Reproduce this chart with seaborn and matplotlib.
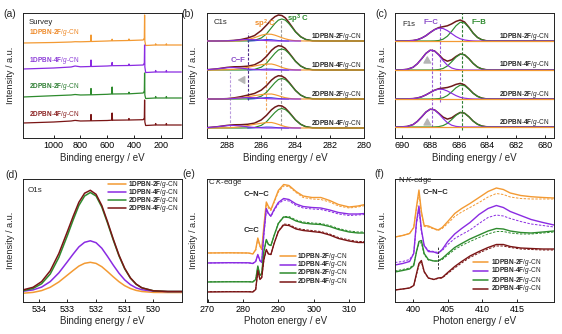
import numpy as np
import matplotlib
matplotlib.use("Agg")
import matplotlib.pyplot as plt
import seaborn as sns

# ---------------- data ----------------
samples = ["1DPBN-2F", "1DPBN-4F", "2DPBN-2F", "2DPBN-4F"]

# (a) XPS survey
survey_be = [1230, 1000, 870, 840, 800, 724, 721, 718, 600, 566, 563, 560, 440, 437, 434,
             330, 322, 320, 318, 312, 240, 237, 234, 160, 157, 154, 45]
survey_1d2f = [95, 95.5, 96, 96.3, 96.2, 96.5, 103, 96.5, 97, 97.2, 98.8, 97.2, 97.5, 99, 97.5,
               98, 100, 123, 97, 92.5, 93, 94.2, 93, 93, 94.2, 93, 93]
survey_1d4f = [69, 70, 71, 72, 71.2, 71.5, 78, 71.5, 72, 72.3, 75.5, 72.3, 72.5, 74, 72.5,
               73, 75, 93, 71, 65.5, 66, 67.5, 66, 66, 67.5, 66, 66]
survey_2d2f = [41, 42.3, 43, 43.5, 43, 43.2, 49.5, 43.2, 43.7, 44, 51, 44, 44.2, 45.8, 44.2,
               45, 47, 65, 43, 39.5, 40, 41.5, 40, 40, 41.5, 40, 40]
survey_2d4f = [15, 16, 17, 17.6, 17, 17.2, 23.5, 17.2, 17.5, 17.8, 25, 17.8, 18, 19.5, 18,
               18.3, 20, 38, 16, 12.5, 13, 14.5, 13, 13, 14.5, 13, 13]

# (b) C1s fitted components
c1s_be = [289.2, 288.6, 288.0, 287.6, 287.2, 286.8, 286.4, 286.0, 285.7, 285.4, 285.2,
          285.0, 284.8, 284.6, 284.4, 284.2, 284.0, 283.7, 283.4, 283.0, 282.4, 280.0]
c1s_sp3 = [
    [0, 0, 0, 0, 0, 0.1, 0.6, 3, 7, 13.4, 17.6, 20.9, 22, 20.9, 17.6, 13.4, 9, 4.2, 1.5, 0.2, 0, 0],
    [0, 0, 0, 0, 0, 0.1, 0.6, 2.8, 6.7, 12.8, 16.8, 20, 21, 20, 16.8, 12.8, 8.6, 4, 1.4, 0.2, 0, 0],
    [0, 0, 0, 0, 0, 0.1, 0.6, 2.8, 6.6, 12.5, 16.4, 19.5, 20.5, 19.5, 16.4, 12.5, 8.4, 3.9, 1.4, 0.2, 0, 0],
    [0, 0, 0, 0, 0, 0.1, 0.5, 2.6, 6.2, 11.9, 15.6, 18.5, 19.5, 18.5, 15.6, 11.9, 8, 3.7, 1.3, 0.2, 0, 0],
]
c1s_sp2 = [
    [0, 0, 0, 0.1, 0.3, 1.3, 3.3, 5.8, 6.9, 6.7, 5.8, 4.6, 3.3, 2.2, 1.3, 0.7, 0.3, 0.1, 0, 0, 0, 0],
    [0, 0, 0.3, 0.7, 1.4, 2.6, 4, 5.3, 5.9, 6, 5.2, 4, 2.6, 1.6, 0.8, 0.4, 0.1, 0, 0, 0, 0, 0],
    [0, 0, 0.2, 0.6, 1.2, 2.2, 3.4, 4.4, 4.9, 5, 4.3, 3.3, 2.2, 1.3, 0.7, 0.3, 0.1, 0, 0, 0, 0, 0],
    [0, 0, 0.2, 0.6, 1.3, 2.4, 3.7, 4.8, 5.4, 5.5, 4.7, 3.6, 2.4, 1.4, 0.7, 0.3, 0.1, 0, 0, 0, 0, 0],
]
c1s_cf = [
    [0, 0, 0.15, 0.5, 1.1, 1.5, 1.3, 0.8, 0.4, 0.15, 0.1, 0, 0, 0, 0, 0, 0, 0, 0, 0, 0, 0],
    [0.25, 1.1, 2.3, 2.5, 1.9, 1.1, 0.45, 0.1, 0, 0, 0, 0, 0, 0, 0, 0, 0, 0, 0, 0, 0, 0],
    [0, 0, 0.15, 0.5, 1.1, 1.5, 1.3, 0.8, 0.4, 0.15, 0.1, 0, 0, 0, 0, 0, 0, 0, 0, 0, 0, 0],
    [0.3, 1.2, 2.4, 2.6, 2.0, 1.2, 0.5, 0.1, 0, 0, 0, 0, 0, 0, 0, 0, 0, 0, 0, 0, 0, 0],
]
c1s_minor = [
    [0, 0, 0, 0, 0, 0.05, 0.2, 0.9, 1.45, 1.3, 0.9, 0.5, 0.2, 0.06, 0, 0, 0, 0, 0, 0, 0, 0],
    [0, 0, 0, 0, 0, 0, 0.15, 0.6, 1.0, 0.9, 0.6, 0.3, 0.15, 0, 0, 0, 0, 0, 0, 0, 0, 0],
    [0, 0, 0, 0, 0, 0.05, 0.2, 0.9, 1.45, 1.3, 0.9, 0.5, 0.2, 0.06, 0, 0, 0, 0, 0, 0, 0, 0],
    [0, 0, 0, 0, 0, 0, 0.15, 0.6, 1.0, 0.9, 0.6, 0.3, 0.15, 0, 0, 0, 0, 0, 0, 0, 0, 0],
]
c1s_marks = [284.85, 285.7, 286.75, 287.85]   # sp3, sp2, C-F (2F), C-F (4F)

# (c) F1s fitted components
f1s_be = [690.46, 690.0, 689.6, 689.2, 688.9, 688.6, 688.3, 688.0, 687.7, 687.4, 687.1, 686.8,
          686.5, 686.2, 685.9, 685.6, 685.3, 685.0, 684.7, 684.4, 684.1, 683.7, 683.2, 679.35]
f1s_fb = [
    [0, 0, 0, 0, 0, 0, 0, 0, 0.1, 0.5, 1.8, 4.8, 9.7, 15.2, 18.8, 18, 13.5, 7.8, 3.6, 1.3, 0.3, 0, 0, 0],
    [0, 0, 0, 0, 0, 0, 0, 0, 0.1, 0.5, 1.5, 4, 8.2, 12.8, 15.8, 15.2, 11.4, 6.6, 3, 1.1, 0.3, 0, 0, 0],
    [0, 0, 0, 0, 0, 0, 0, 0, 0.1, 0.4, 1.3, 3.5, 7.1, 11.2, 13.9, 13.3, 9.9, 5.7, 2.7, 0.9, 0.2, 0, 0, 0],
    [0, 0, 0, 0, 0, 0, 0, 0, 0.1, 0.4, 1.4, 3.6, 7.4, 11.6, 14.4, 13.8, 10.3, 5.9, 2.8, 1, 0.3, 0, 0, 0],
]
f1s_fc = [
    [0, 0, 0.1, 0.5, 1.3, 2.9, 5.3, 8.5, 11.3, 12.9, 12.5, 10.4, 7.4, 4.4, 2.2, 1, 0.4, 0.1, 0, 0, 0, 0, 0, 0],
    [0, 0.1, 0.7, 2.7, 6.2, 11.2, 16.6, 19.8, 19, 14.8, 9.4, 4.8, 2, 0.7, 0.2, 0, 0, 0, 0, 0, 0, 0, 0, 0],
    [0, 0, 0.1, 0.4, 1, 2.2, 4.1, 6.5, 8.7, 9.9, 9.6, 8, 5.7, 3.4, 1.7, 0.8, 0.3, 0.1, 0, 0, 0, 0, 0, 0],
    [0, 0.1, 0.6, 2.4, 5.6, 10.1, 14.9, 17.8, 17.1, 13.3, 8.5, 4.3, 1.8, 0.6, 0.2, 0, 0, 0, 0, 0, 0, 0, 0, 0],
]
f1s_marks = [685.8, 687.3, 687.9]   # F-B, F-C (2F), F-C (4F)

# (d) O1s
o1s_be = [534.55, 534.2, 533.9, 533.6, 533.3, 533.0, 532.8, 532.6, 532.4, 532.2, 532.0,
          531.8, 531.6, 531.4, 531.2, 531.0, 530.8, 530.6, 530.4, 530.0, 529.5, 529.0]
o1s = [
    [8.3, 9.1, 10.9, 14.2, 19.5, 26.4, 31, 35.4, 38.2, 39.2, 38.1, 34.8, 29.9, 24.7, 19.8, 15.8, 13, 11.1, 10, 9.1, 9, 9],
    [10.3, 11.6, 14.4, 19.9, 28.6, 39.8, 47.4, 54.6, 59.2, 60.7, 58.8, 53.3, 45.1, 36.4, 28.3, 21.6, 16.8, 13.6, 11.8, 10.3, 9.9, 9.9],
    [10.8, 13, 17.8, 27.5, 44, 66, 81.5, 96, 105.5, 109, 105.5, 94.5, 78.5, 61.5, 45.6, 32.7, 23.3, 17.2, 13.6, 10.7, 10, 10],
    [11.6, 14.2, 19.9, 30.7, 47.9, 70, 85.1, 99.2, 108.3, 111.2, 107.2, 96, 79.8, 62.5, 46.4, 33.2, 23.6, 17.4, 13.7, 10.7, 10, 10],
]

# (e) C K-edge NEXAFS (solid and dashed traces)
ck_e = [269.5, 276, 281.5, 282.8, 283.6, 284.2, 284.8, 285.3, 285.9, 286.6, 287.2, 287.9, 288.8,
        290, 291.5, 293, 295, 297, 299.5, 302, 304.5, 307, 310, 312.5, 314.5]
ck_solid = [
    [48.5, 48.7, 48.5, 47.5, 52, 63.5, 56, 52, 75, 99.5, 95, 92, 100, 111, 117, 116, 110, 105.5, 104, 104, 101, 97, 94.5, 95.5, 97],
    [38.5, 38.8, 38.7, 38, 40, 47, 41, 39, 68, 93, 88, 85.5, 92, 99, 103, 102, 97.5, 95, 94, 93.5, 91.5, 89, 87.5, 87.5, 88],
    [19.5, 19.7, 19.7, 19.5, 22, 35.5, 26, 28, 50, 62, 57, 56, 66, 78, 84.5, 84, 80.5, 78.5, 77.5, 77, 75, 72, 69.5, 68.5, 68.5],
    [9.5, 9.7, 9.7, 9.5, 12, 31, 22, 24, 42, 52, 47.5, 47, 58, 70, 76.5, 76, 72.5, 71, 70, 69, 66.5, 63, 60.5, 59, 59],
]
ck_dashed = [
    [48.5, 48.7, 48.5, 47.8, 51, 62.5, 55, 52, 73, 98, 93.5, 91, 99, 109.5, 115.5, 115, 109, 104, 102.5, 102, 99.5, 95.5, 93.5, 94.5, 96],
    [38.5, 38.8, 38.7, 38.2, 40, 46.5, 40.5, 39, 66, 91.5, 87.5, 85, 91, 97.5, 101.5, 100.5, 96, 93.5, 92.5, 92, 90, 87.5, 86, 86.5, 87],
    [19.7, 19.9, 19.9, 19.8, 22, 34.5, 26.5, 28, 49, 61, 57, 56, 66, 78.5, 85, 85, 81.5, 79.5, 78.5, 78, 76, 73, 70.5, 69.5, 69.5],
    [9.8, 10, 10, 9.8, 12, 30, 22.5, 24, 41, 51.5, 47.5, 47, 58, 70.5, 77.5, 77, 73.5, 72, 71, 70, 67.5, 64, 61.5, 60, 60],
]

# (f) N K-edge NEXAFS
nk_e = [397.4, 398.5, 399.5, 400.1, 400.5, 400.85, 401.2, 401.6, 402.2, 403.0, 403.6, 404.2, 405.0,
        406.0, 407.0, 408.2, 409.5, 410.8, 412.0, 413.0, 414.0, 415.5, 417.0, 418.7, 420.3]
nk_solid = [
    [64.5, 66, 68, 74, 95, 111.5, 90, 76, 75.5, 73, 71.5, 74, 80, 88, 93, 98, 104, 110, 113.5, 112, 108.5, 106, 104.8, 104, 103.5],
    [36.5, 38, 40, 48, 80, 95.5, 72, 56, 50, 49.5, 48, 52, 60, 67.5, 73, 79, 87, 93, 96, 94, 90, 86, 82, 79, 76.5],
    [29.5, 31, 32.5, 36, 50, 60, 61, 48, 42, 40.5, 40.5, 43, 48, 54, 58, 62.5, 66.5, 70.5, 73, 72.5, 70.5, 69, 68.5, 69.5, 70.5],
    [11.5, 12.5, 13.5, 16, 28, 38, 41, 30, 23.5, 22, 23.5, 24, 29, 35, 40, 45.5, 50, 54, 57, 57, 55, 53.5, 53, 52.5, 52.5],
]
nk_dashed = [
    [64.5, 66, 68, 74, 93, 108, 88, 75, 74.5, 72.5, 71, 73, 78, 85, 89.5, 94, 99, 104.5, 108, 107, 104.5, 103, 102.5, 102.5, 102.5],
    [39, 40, 42, 48, 78, 92, 70, 56, 51, 50, 49, 51, 57, 63, 67, 71.5, 78, 84, 86.5, 85.5, 83, 80, 77.5, 76, 74.5],
    [30.5, 32, 33.5, 37, 50, 58, 59, 47, 41.5, 40.5, 40.5, 42, 46.5, 52, 56, 60, 64, 67.5, 70, 70, 68.5, 67.5, 67.5, 68.5, 69.5],
    [11.5, 12.5, 13.5, 16, 27, 36.5, 39.5, 29.5, 23.5, 22, 23, 23.5, 28, 33.5, 38.5, 44, 48.5, 52.5, 55.5, 55.5, 54, 52.5, 52, 51.5, 51.5],
]
nk_mark = 403.6

# ---------------- style ----------------
sns.set_theme(style="ticks")
plt.rcParams["font.family"] = ["Liberation Sans", "DejaVu Sans"]
plt.rcParams["mathtext.fontset"] = "custom"
plt.rcParams["mathtext.rm"] = "Liberation Sans"
plt.rcParams["mathtext.it"] = "Liberation Sans:italic"
plt.rcParams["mathtext.bf"] = "Liberation Sans:bold"

ORANGE = "#F39A33"
PURPLE = "#8A2BE2"
GREEN = "#2E8B2E"
DRED = "#7A1515"
BLUE = "#2340E0"
ENV = "#6E1A1A"
colors = [ORANGE, PURPLE, GREEN, DRED]
label_colors_a = ["#EE8A2A", "#8E3FD8", "#2F7F34", "#8B2323"]

TICK_FS = 6.5
LAB_FS = 7
SMALL_FS = 4.7


def rich(name):
    a, b = name.split("-")
    return rf"$\mathbf{{{a}}}$-$\mathbf{{{b}}}$/$\mathit{{g}}$-CN"


def line(ax, x, y, color, lw=0.9, ls="-", z=2):
    sns.lineplot(x=np.asarray(x, float), y=np.asarray(y, float), ax=ax, color=color,
                 linewidth=lw, linestyle=ls, estimator=None, sort=False, zorder=z)


fig = plt.figure(figsize=(5.62, 3.34), dpi=100)
W, H = 562.0, 334.0


def add_ax(x0, x1, y0, y1):
    return fig.add_axes([x0 / W, 1 - y1 / H, (x1 - x0) / W, (y1 - y0) / H])


ax_a = add_ax(23, 182, 13, 138)
ax_b = add_ax(206.5, 364, 13, 138)
ax_c = add_ax(395, 554, 13, 138)
ax_d = add_ax(23, 182, 179, 301.5)
ax_e = add_ax(206.5, 364, 179, 301.5)
ax_f = add_ax(395, 554, 179, 301.5)

# ---- (a) survey
for ys, c in zip([survey_1d2f, survey_1d4f, survey_2d2f, survey_2d4f], colors):
    line(ax_a, survey_be, ys, c, lw=0.9)
for s, yy, c in zip(samples, [105, 77, 51, 24], label_colors_a):
    ax_a.text(1185, yy, rich(s), color=c, fontsize=SMALL_FS, ha="left", va="center")
ax_a.text(1188, 116, "Survey", fontsize=5.6, ha="left", va="center")
ax_a.set_xlim(1230, 40)
ax_a.set_ylim(0, 125)
ax_a.set_xticks([1000, 800, 600, 400, 200])
ax_a.set_xlabel("Binding energy / eV")

# ---- (b) C1s
c1s_offsets = [97, 68, 39, 10]
for r in range(4):
    off = c1s_offsets[r]
    g = np.array(c1s_sp3[r]); o = np.array(c1s_sp2[r])
    p = np.array(c1s_cf[r]); bl = np.array(c1s_minor[r])
    env = g + o + p + bl
    line(ax_b, c1s_be, env + off, ENV, lw=1.1, z=3)
    line(ax_b, c1s_be, g + off, GREEN, lw=0.85, z=3)
    line(ax_b, c1s_be[5:15], (bl + off)[5:15], BLUE, lw=0.7, z=3)
    line(ax_b, c1s_be, o + off, ORANGE, lw=0.85, z=3)
    line(ax_b, c1s_be[:18], (p + off)[:18], PURPLE, lw=0.85, z=3)
    ax_b.text(280.15, off + 4.5, rich(samples[r]), fontsize=SMALL_FS, ha="right", va="center")
ax_b.vlines(c1s_marks[0], 8, 118, colors="#9A9A9A", linestyles=(0, (2.5, 1.5)), lw=0.8, zorder=2)
ax_b.vlines(c1s_marks[1], 28, 105, colors="#F2A65A", linestyles=(0, (2.5, 1.5)), lw=0.8, zorder=2)
ax_b.vlines(c1s_marks[2], 38, 105, colors="#4B2A86", linestyles=(0, (2.5, 1.5)), lw=0.8, zorder=2)
ax_b.vlines(c1s_marks[3], 11, 66, colors="#B99BDD", linestyles=(0, (2.5, 1.5)), lw=0.8, zorder=2)
ax_b.annotate("", xy=(287.55, 58), xytext=(286.85, 58),
              arrowprops=dict(arrowstyle="-|>,head_length=0.35,head_width=0.2", color="#B5B5B5", lw=1.0))
ax_b.text(288.8, 116, "C1s", fontsize=5.6, ha="left", va="center")
ax_b.text(285.76, 114, r"$\mathbf{sp^2\ C}$", fontsize=5.6, color="#F08C28", ha="center", va="center")
ax_b.text(283.84, 119, r"$\mathbf{sp^3\ C}$", fontsize=5.6, color=GREEN, ha="center", va="center")
ax_b.text(287.37, 78, "C−F", fontsize=5.6, color="#8A4CC8", fontweight="bold", ha="center", va="center")
ax_b.set_xlim(289.2, 280)
ax_b.set_ylim(0, 125)
ax_b.set_xticks([288, 286, 284, 282, 280])
ax_b.set_xlabel("Binding energy / eV")

# ---- (c) F1s
f1s_offsets = [97, 68, 39, 11]
for r in range(4):
    off = f1s_offsets[r]
    g = np.array(f1s_fb[r]); p = np.array(f1s_fc[r])
    env = g + p
    line(ax_c, f1s_be, env + off, ENV, lw=1.1, z=3)
    line(ax_c, f1s_be, g + off, GREEN, lw=0.85, z=3)
    line(ax_c, f1s_be, p + off, PURPLE, lw=0.85, z=3)
    line(ax_c, [f1s_be[0], f1s_be[-1]], [off, off], ORANGE, lw=0.9, z=4)
    ax_c.text(679.7, off + 5, rich(samples[r]), fontsize=SMALL_FS, ha="right", va="center")
ax_c.vlines(f1s_marks[0], 8, 125, colors="#2F7F34", linestyles=(0, (2.5, 1.5)), lw=0.8, zorder=2)
ax_c.vlines(f1s_marks[1], 36, 115, colors="#9B5ED6", linestyles=(0, (2.5, 1.5)), lw=0.8, zorder=2)
ax_c.vlines(f1s_marks[2], 11, 91, colors="#9B5ED6", linestyles=(0, (2.5, 1.5)), lw=0.8, zorder=2)
for y0 in (75, 13):
    ax_c.annotate("", xy=(688.2, y0 + 10), xytext=(688.2, y0),
                  arrowprops=dict(arrowstyle="-|>,head_length=0.35,head_width=0.2", color="#B5B5B5", lw=1.0))
ax_c.text(689.97, 114, "F1s", fontsize=5.6, ha="left", va="center")
ax_c.text(687.96, 115, "F−C", fontsize=5.6, color="#8A4CC8", fontweight="bold", ha="center", va="center")
ax_c.text(684.56, 115, "F−B", fontsize=5.6, color=GREEN, fontweight="bold", ha="center", va="center")
ax_c.set_xlim(690.46, 679.35)
ax_c.set_ylim(0, 125)
ax_c.set_xticks([690, 688, 686, 684, 682, 680])
ax_c.set_xlabel("Binding energy / eV")

# ---- (d) O1s
for ys, c in zip(o1s, colors):
    line(ax_d, o1s_be, ys, c, lw=1.1)
ax_d.text(534.38, 111.5, "O1s", fontsize=5.8, ha="left", va="center")
for s, c, yy in zip(samples, colors, [117.5, 109.5, 101.5, 93.5]):
    ax_d.plot([531.58, 530.95], [yy, yy], color=c, lw=1.1)
    ax_d.text(530.88, yy, rich(s), fontsize=SMALL_FS, ha="left", va="center")
ax_d.set_xlim(534.55, 529.0)
ax_d.set_ylim(0, 122.5)
ax_d.set_xticks([534, 533, 532, 531, 530])
ax_d.set_xlabel("Binding energy / eV")

# ---- (e) C K-edge
for r in range(4):
    line(ax_e, ck_e, ck_dashed[r], colors[r], lw=0.7, ls=(0, (2.5, 1.5)))
    line(ax_e, ck_e, ck_solid[r], colors[r], lw=1.0)
ax_e.text(270.0, 118.5, r"C $\mathit{K}$-edge", fontsize=5.6, ha="left", va="center")
ax_e.text(283.8, 107.5, "C−N−C", fontsize=5.6, fontweight="bold", ha="center", va="center")
ax_e.text(282.5, 70.5, "C=C", fontsize=5.6, fontweight="bold", ha="center", va="center")
for s, c, yy in zip(samples, colors, [45.5, 37, 28.5, 20]):
    ax_e.plot([290.56, 294.85], [yy, yy], color=c, lw=1.1)
    ax_e.text(295.4, yy, rich(s), fontsize=SMALL_FS, ha="left", va="center")
ax_e.set_xlim(269.7, 314.2)
ax_e.set_ylim(0, 122.5)
ax_e.set_xticks([270, 280, 290, 300, 310])
ax_e.set_xlabel("Photon energy / eV")

# ---- (f) N K-edge
for r in range(4):
    line(ax_f, nk_e, nk_dashed[r], colors[r], lw=0.7, ls=(0, (2.5, 1.5)))
    line(ax_f, nk_e, nk_solid[r], colors[r], lw=1.0)
ax_f.vlines(nk_mark, 33, 55, colors="#333333", linestyles=(0, (2.5, 1.5)), lw=0.7)
ax_f.text(397.83, 120.5, r"N $\mathit{K}$-edge", fontsize=5.6, ha="left", va="center")
ax_f.text(403.2, 109.5, "C−N−C", fontsize=5.6, fontweight="bold", ha="center", va="center")
for s, c, yy in zip(samples, colors, [39.5, 30.5, 21.5, 12.5]):
    ax_f.plot([408.66, 410.82], [yy, yy], color=c, lw=1.1)
    ax_f.text(411.25, yy, rich(s), fontsize=SMALL_FS, ha="left", va="center")
ax_f.set_xlim(397.4, 420.3)
ax_f.set_ylim(0, 122.5)
ax_f.set_xticks([400, 405, 410, 415])
ax_f.set_xlabel("Photon energy / eV")

# ---- common axis styling
for ax in [ax_a, ax_b, ax_c, ax_d, ax_e, ax_f]:
    ax.set_yticks([])
    ax.set_ylabel("Intensity / a.u.", fontsize=6.6, labelpad=6)
    ax.xaxis.label.set_fontsize(LAB_FS)
    ax.xaxis.labelpad = 1.5
    ax.tick_params(axis="x", direction="in", length=2.5, width=0.6, pad=2.5,
                   labelsize=TICK_FS, colors="black")
    for sp in ax.spines.values():
        sp.set_visible(True)
        sp.set_linewidth(0.7)
        sp.set_color("#222222")

for lbl, (px, py) in zip(["(a)", "(b)", "(c)", "(d)", "(e)", "(f)"],
                         [(10, 14), (188, 14), (382, 14), (12, 175), (189, 174), (379, 174)]):
    fig.text(px / W, 1 - py / H, lbl, fontsize=7.5, ha="center", va="center")

fig.savefig("out.png", dpi=100)
